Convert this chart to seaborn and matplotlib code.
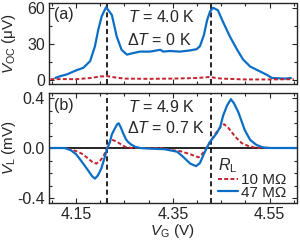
import matplotlib
matplotlib.use('Agg')
import matplotlib.pyplot as plt
import seaborn as sns
from matplotlib.ticker import MultipleLocator

# panel (a): open-circuit voltage, T = 4.0 K, dT = 0 K
vg_a_47 = [4.107, 4.117, 4.131, 4.151, 4.165, 4.175, 4.179, 4.189, 4.196, 4.203,
           4.212, 4.224, 4.234, 4.244, 4.255, 4.265, 4.282, 4.303, 4.324, 4.330,
           4.344, 4.365, 4.386, 4.399, 4.406, 4.414, 4.421, 4.427, 4.433, 4.443,
           4.454, 4.468, 4.483, 4.495, 4.510, 4.530, 4.545, 4.555, 4.582, 4.594]
voc_47 = [1.5, 3, 4.5, 8, 10, 14, 15.5, 28, 42, 53,
          60.5, 54, 36, 25, 21, 22, 23.5, 23.5, 25, 23.5,
          24, 23.5, 24.5, 25.5, 28, 37, 50, 57, 60, 58,
          48, 36, 25, 17, 11, 7, 4, 1.5, 1, 1.5]
vg_a_10 = [4.097, 4.12, 4.15, 4.18, 4.20, 4.215, 4.23, 4.25, 4.30, 4.35,
           4.40, 4.425, 4.45, 4.50, 4.55, 4.60]
voc_10 = [0.5, 0.6, 0.5, 1.5, 2.8, 3, 2, 1, 0.8, 1,
          1.5, 2.3, 1, 0.3, 0.3, 0.5]

# panel (b): load voltage, T = 4.9 K, dT = 0.7 K
vg_b_47 = [4.094, 4.123, 4.129, 4.140, 4.150, 4.160, 4.175, 4.183, 4.189, 4.195,
           4.202, 4.208, 4.213, 4.220, 4.224, 4.230, 4.235, 4.238, 4.243, 4.247,
           4.253, 4.257, 4.264, 4.272, 4.282, 4.303, 4.334, 4.359, 4.371, 4.386,
           4.398, 4.406, 4.414, 4.420, 4.427, 4.441, 4.448, 4.454, 4.462, 4.470,
           4.476, 4.485, 4.499, 4.510, 4.523, 4.536, 4.551, 4.605]
vl_47 = [0, 0, -0.003, -0.02, -0.05, -0.1, -0.18, -0.225, -0.245, -0.22,
         -0.165, -0.09, -0.02, 0.05, 0.11, 0.155, 0.19, 0.198, 0.16, 0.12,
         0.07, 0.05, 0.027, 0.01, 0, -0.005, -0.01, -0.03, -0.07, -0.125,
         -0.145, -0.12, -0.05, 0, 0.05, 0.12, 0.17, 0.26, 0.34, 0.39,
         0.36, 0.29, 0.14, 0.064, 0.024, 0.005, 0, 0]
vg_b_10 = [4.094, 4.127, 4.138, 4.154, 4.164, 4.175, 4.183, 4.192, 4.200, 4.206,
           4.212, 4.216, 4.220, 4.224, 4.231, 4.237, 4.251, 4.264, 4.324, 4.344,
           4.365, 4.386, 4.403, 4.410, 4.417, 4.427, 4.441, 4.451, 4.456, 4.465,
           4.479, 4.492, 4.506, 4.523, 4.605]
vl_10 = [0, 0, -0.01, -0.03, -0.05, -0.085, -0.11, -0.125, -0.1, -0.07,
         -0.02, 0.02, 0.05, 0.067, 0.055, 0.043, 0.01, 0, 0, -0.015,
         -0.025, -0.05, -0.075, -0.05, -0.015, 0.05, 0.13, 0.18, 0.19, 0.16,
         0.09, 0.04, 0.016, 0, 0]

peak_vg = [4.214, 4.428]
x_ticks = [4.15, 4.35, 4.55]
ya_ticks = [0, 30, 60]
yb_ticks = [-0.4, 0.0, 0.4]
legend_labels = ['10 M\u03a9', '47 M\u03a9']

blue = '#0a6ec6'
red = '#c4212b'

sns.set_style('ticks')
plt.rcParams['font.family'] = ['Liberation Sans', 'DejaVu Sans']
plt.rcParams['mathtext.fontset'] = 'custom'
plt.rcParams['mathtext.rm'] = 'Liberation Sans'
plt.rcParams['mathtext.it'] = 'Liberation Sans:italic'
plt.rcParams['axes.unicode_minus'] = False
plt.rcParams['font.size'] = 11.5

fig = plt.figure(figsize=(3, 2.4), dpi=100)
ax1 = fig.add_axes([49 / 300, 1 - 84 / 240, 247.5 / 300, 81 / 240])
ax2 = fig.add_axes([49 / 300, 1 - 203 / 240, 247.5 / 300, 110 / 240])

# (a)
sns.lineplot(x=vg_a_47, y=voc_47, ax=ax1, color=blue, lw=1.6, errorbar=None)
sns.lineplot(x=vg_a_10, y=voc_10, ax=ax1, color=red, lw=1.4, errorbar=None,
             linestyle=(0, (2, 1.2)))
ax1.set_ylim(-3.5, 64)
ax1.set_yticks(ya_ticks)
ax1.yaxis.set_minor_locator(MultipleLocator(15))
ax1.set_ylabel(r'$V_{\mathrm{OC}}$ ($\mathrm{\mu}$V)', fontsize=11)
ax1.set_xticklabels([])
ax1.text(4.104, 54, '(a)', va='center', ha='left')
ax1.text(4.257, 52.5, r'$T$ = 4.0 K', va='center', ha='left')
ax1.text(4.255, 33.3, r'$\Delta T$ = 0 K', va='center', ha='left')

# (b)
ax2.axhline(0, color='black', lw=1.2, zorder=1)
sns.lineplot(x=vg_b_10, y=vl_10, ax=ax2, color=red, lw=1.4, errorbar=None,
             linestyle=(0, (2, 1.2)), label=legend_labels[0])
sns.lineplot(x=vg_b_47, y=vl_47, ax=ax2, color=blue, lw=1.6, errorbar=None,
             label=legend_labels[1])
ax2.set_ylim(-0.44, 0.44)
ax2.set_yticks(yb_ticks)
ax2.set_yticklabels(['%.1f' % t for t in yb_ticks])
ax2.yaxis.set_minor_locator(MultipleLocator(0.1))
ax2.set_ylabel(r'$V_{\mathrm{L}}$ (mV)', fontsize=11)
ax2.set_xlabel(r'$V_{\mathrm{G}}$ (V)', fontsize=11)
ax2.text(4.104, 0.34, '(b)', va='center', ha='left')
ax2.text(4.257, 0.325, r'$T$ = 4.9 K', va='center', ha='left')
ax2.text(4.255, 0.158, r'$\Delta T$ = 0.7 K', va='center', ha='left')
leg = ax2.legend(title=r'$R_{\mathrm{L}}$', loc='lower left',
                 bbox_to_anchor=(0.683, 0.03), frameon=False, borderpad=0,
                 borderaxespad=0, handlelength=1.3, handletextpad=0.2,
                 labelspacing=-0.1, alignment='left', fontsize=11,
                 title_fontsize=11.5)

for ax in (ax1, ax2):
    for v in peak_vg:
        ax.axvline(v, color='black', lw=1.2, linestyle=(0, (3, 2)), zorder=0)
    ax.set_xlim(4.094, 4.6056)
    ax.set_xticks(x_ticks)
    ax.xaxis.set_minor_locator(MultipleLocator(0.05))
    ax.tick_params(which='both', direction='in', top=True, right=True, width=0.8)
    ax.tick_params(which='major', length=3.5, pad=3)
    ax.tick_params(which='minor', length=2)
    for s in ax.spines.values():
        s.set_linewidth(1.0)
    ax.yaxis.set_label_coords(-0.125, 0.5)
ax2.set_xticklabels(['%.2f' % t for t in x_ticks])
ax2.xaxis.labelpad = 0

fig.savefig('out.png', dpi=100)
